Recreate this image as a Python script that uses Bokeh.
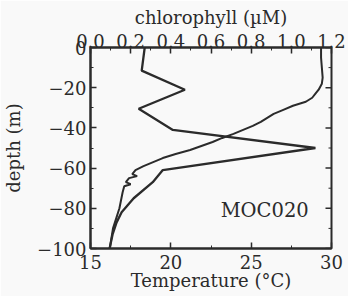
import math
from bokeh.plotting import figure
from bokeh.models import Range1d, LinearAxis, FixedTicker, PrintfTickFormatter, Label
from bokeh.embed import file_html
from bokeh.resources import INLINE

# ---- data ----
temp_depth = [0, -5, -10, -15, -18, -21, -23, -25, -27, -29, -31, -33, -35, -37, -39,
              -41, -43, -45, -47, -49, -51, -53, -55, -57, -59, -61, -63, -64, -65,
              -67, -68, -69, -72, -76, -80, -85, -90, -95, -100]
temperature = [29.35, 29.35, 29.4, 29.45, 29.4, 29.2, 29.0, 28.8, 28.4, 27.6, 27.0,
               26.4, 26.0, 25.6, 25.1, 24.5, 23.9, 23.2, 22.6, 21.9, 21.2, 20.3, 19.5,
               18.9, 18.3, 17.8, 17.6, 17.9, 17.4, 17.2, 17.5, 17.1, 17.0, 16.9, 16.8,
               16.6, 16.4, 16.3, 16.2]

chl_depth = [0, -11.5, -21, -30.5, -41, -50, -61, -67, -75, -82, -87, -93, -100]
chlorophyll = [0.27, 0.255, 0.47, 0.24, 0.41, 1.12, 0.36, 0.31, 0.215, 0.155, 0.13,
               0.11, 0.095]

station = "MOC020"

temp_ticks = [15, 20, 25, 30]
temp_minor = [17.5, 22.5, 27.5]
chl_ticks = [0.0, 0.2, 0.4, 0.6, 0.8, 1.0, 1.2]
chl_minor = [0.1, 0.3, 0.5, 0.7, 0.9, 1.1]
depth_ticks = [0, -20, -40, -60, -80, -100]
depth_minor = [-10, -30, -50, -70, -90]

FONT = "DejaVu Serif"
INK = "#2b2b2b"
BG = "#f9f9f9"

p = figure(width=348, height=296, output_backend="svg", toolbar_location=None,
           x_range=Range1d(15, 30), y_range=Range1d(-100, 0),
           min_border_left=82, min_border_right=17, min_border_top=47,
           min_border_bottom=48,
           x_axis_label="Temperature (°C)", y_axis_label="depth (m)")
p.extra_x_ranges = {"chl": Range1d(0, 1.2)}
p.grid.visible = False
p.background_fill_color = BG
p.border_fill_color = BG
p.outline_line_color = INK
p.outline_line_width = 2


def style(ax):
    ax.axis_line_color = INK
    ax.axis_line_width = 2
    ax.major_tick_in = 6
    ax.major_tick_out = 0
    ax.minor_tick_in = 3
    ax.minor_tick_out = 0
    ax.major_tick_line_color = INK
    ax.minor_tick_line_color = INK
    ax.major_tick_line_width = 1.5
    ax.major_label_text_font = FONT
    ax.major_label_text_font_size = "18px"
    ax.major_label_text_color = INK
    ax.axis_label_text_font = FONT
    ax.axis_label_text_font_size = "18px"
    ax.axis_label_text_font_style = "normal"
    ax.axis_label_text_color = INK


xa = p.xaxis[0]
xa.ticker = FixedTicker(ticks=temp_ticks, minor_ticks=temp_minor)
style(xa)
xa.major_label_standoff = 6
xa.axis_label_standoff = -2

ya = p.yaxis[0]
ya.ticker = FixedTicker(ticks=depth_ticks, minor_ticks=depth_minor)
style(ya)
ya.major_label_standoff = 4
ya.axis_label_standoff = 10

top = LinearAxis(x_range_name="chl", axis_label="chlorophyll (µM)",
                 ticker=FixedTicker(ticks=chl_ticks, minor_ticks=chl_minor),
                 formatter=PrintfTickFormatter(format="%.1f"))
style(top)
top.major_label_standoff = 0
top.axis_label_standoff = 3
p.add_layout(top, "above")

# inward ticks on the right-hand frame edge (no labels there)
p.ray(x=[30] * len(depth_ticks), y=depth_ticks, length=6, length_units="screen",
      angle=math.pi, line_color=INK, line_width=1.5)
p.ray(x=[30] * len(depth_minor), y=depth_minor, length=3, length_units="screen",
      angle=math.pi, line_color=INK, line_width=1)

p.line(temperature, temp_depth, line_color=INK, line_width=2)
p.line(chlorophyll, chl_depth, x_range_name="chl", line_color=INK, line_width=2.3)

p.add_layout(Label(x=23.1, y=-86.6, text=station, text_font=FONT,
                   text_font_size="19.5px", text_color=INK))

open("out.html", "w").write(file_html(p, INLINE))
